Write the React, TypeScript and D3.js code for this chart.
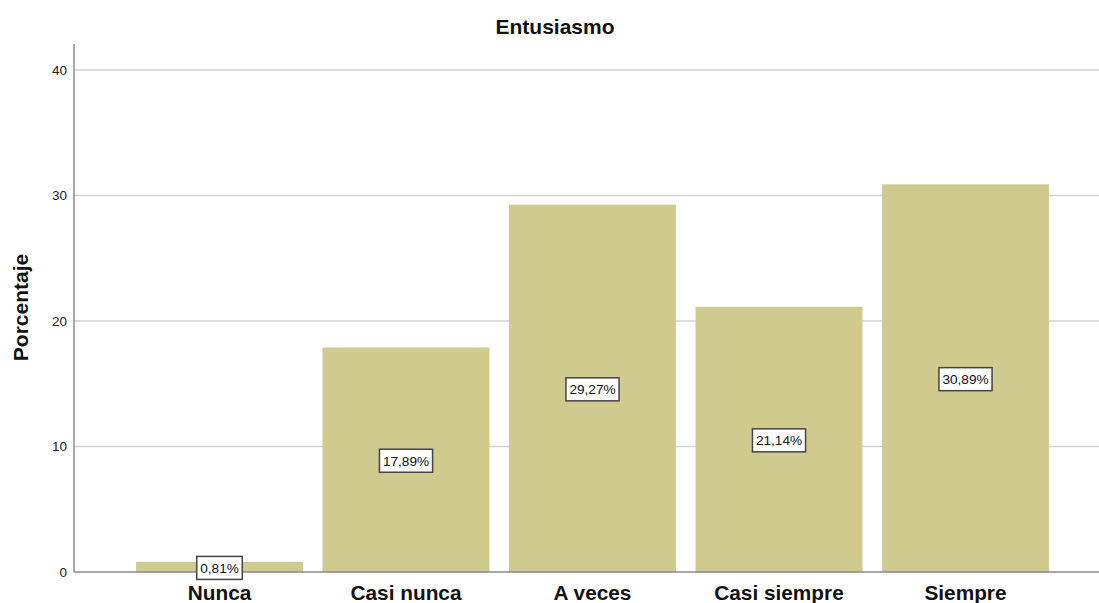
import React, { useEffect, useRef } from "react";
import * as d3 from "d3";

const categories = ["Nunca", "Casi nunca", "A veces", "Casi siempre", "Siempre"];
const percentages = [0.81, 17.89, 29.27, 21.14, 30.89];
const yTicks = [0, 10, 20, 30, 40];

const W = 1099;
const H = 603;

export default function App() {
  const ref = useRef<SVGSVGElement | null>(null);

  useEffect(() => {
    const svg = d3.select(ref.current);
    svg.selectAll("*").remove();

    const font = "Liberation Sans, Arial, sans-serif";
    const axisX = 74;
    const y = d3.scaleLinear().domain([0, 40]).range([572, 70]);
    const x = d3
      .scaleBand<string>()
      .domain(categories)
      .range([126.25, 1058.75])
      .paddingInner(0.105)
      .paddingOuter(0.0525);

    // grid lines
    svg
      .append("g")
      .selectAll("line")
      .data(yTicks.filter((t) => t > 0))
      .join("line")
      .attr("x1", axisX)
      .attr("x2", W)
      .attr("y1", (d) => y(d))
      .attr("y2", (d) => y(d))
      .attr("stroke", "#d2d2d2")
      .attr("stroke-width", 1.5);

    // bars
    svg
      .append("g")
      .selectAll("rect")
      .data(percentages)
      .join("rect")
      .attr("x", (_, i) => x(categories[i])!)
      .attr("width", x.bandwidth())
      .attr("y", (d) => y(d))
      .attr("height", (d) => y(0) - y(d))
      .attr("fill", "#cfca8e");

    // axes
    svg
      .append("line")
      .attr("x1", axisX)
      .attr("x2", axisX)
      .attr("y1", 44)
      .attr("y2", y(0))
      .attr("stroke", "#888")
      .attr("stroke-width", 1.5);
    svg
      .append("line")
      .attr("x1", axisX)
      .attr("x2", W)
      .attr("y1", y(0))
      .attr("y2", y(0))
      .attr("stroke", "#888")
      .attr("stroke-width", 1.5);

    // y tick labels
    svg
      .append("g")
      .selectAll("text")
      .data(yTicks)
      .join("text")
      .attr("x", 67)
      .attr("y", (d) => y(d))
      .attr("dy", "0.35em")
      .attr("text-anchor", "end")
      .attr("font-family", font)
      .attr("font-size", 13.5)
      .attr("fill", "#222")
      .text((d) => d);

    // category labels
    svg
      .append("g")
      .selectAll("text")
      .data(categories)
      .join("text")
      .attr("x", (d) => x(d)! + x.bandwidth() / 2)
      .attr("y", 600)
      .attr("text-anchor", "middle")
      .attr("font-family", font)
      .attr("font-weight", "bold")
      .attr("font-size", 20.8)
      .attr("fill", "#111")
      .text((d) => d);

    // value labels
    const labels = svg
      .append("g")
      .selectAll("g")
      .data(percentages)
      .join("g")
      .attr(
        "transform",
        (d, i) =>
          `translate(${x(categories[i])! + x.bandwidth() / 2},${y(d / 2) + 1})`
      );
    labels.each(function (d) {
      const g = d3.select(this);
      const t = g
        .append("text")
        .attr("text-anchor", "middle")
        .attr("dy", "0.36em")
        .attr("font-family", font)
        .attr("font-size", 13.6)
        .attr("fill", "#111")
        .text(d.toFixed(2).replace(".", ",") + "%");
      const w = (t.node() as SVGTextElement).getComputedTextLength() + 7;
      g.insert("rect", "text")
        .attr("x", -w / 2)
        .attr("y", -11.5)
        .attr("width", w)
        .attr("height", 23)
        .attr("fill", "#fff")
        .attr("stroke", "#444")
        .attr("stroke-width", 1.5);
    });

    // title
    svg
      .append("text")
      .attr("x", 555)
      .attr("y", 34)
      .attr("text-anchor", "middle")
      .attr("font-family", font)
      .attr("font-weight", "bold")
      .attr("font-size", 21)
      .attr("fill", "#111")
      .text("Entusiasmo");

    // y axis title
    svg
      .append("text")
      .attr("transform", `translate(28,307.5) rotate(-90)`)
      .attr("text-anchor", "middle")
      .attr("font-family", font)
      .attr("font-weight", "bold")
      .attr("font-size", 21)
      .attr("fill", "#111")
      .text("Porcentaje");
  }, []);

  return (
    <svg
      ref={ref}
      width={W}
      height={H}
      style={{ position: "absolute", left: 0, top: 0, background: "#fff" }}
    />
  );
}
